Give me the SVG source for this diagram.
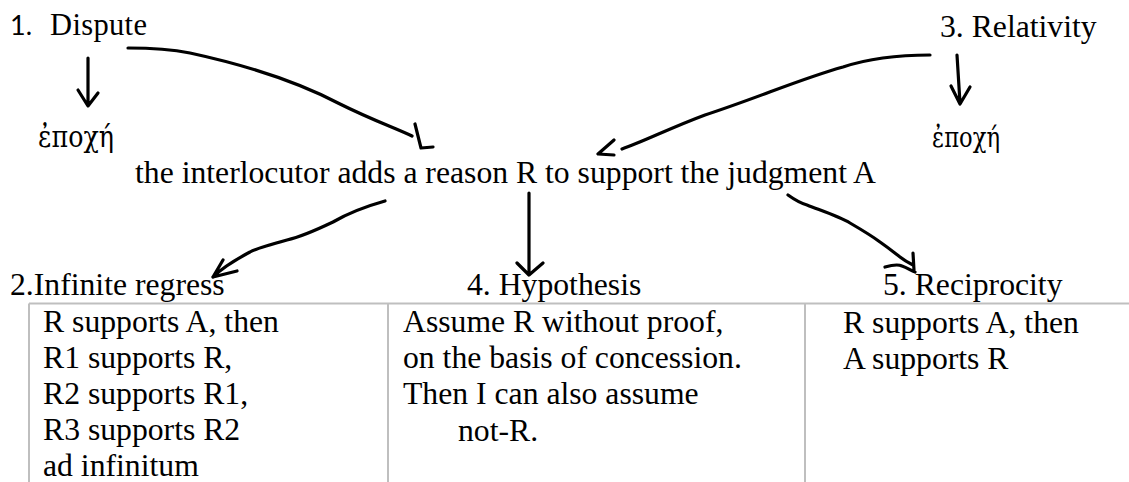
<svg xmlns="http://www.w3.org/2000/svg" width="1129" height="482" viewBox="0 0 1129 482">
<style>
.t{font-family:"Liberation Serif","Times New Roman",serif;font-size:31.7px;fill:#000}
.g{font-family:"DejaVu Serif","Liberation Serif",serif;fill:#000}
.d{font-family:"Liberation Serif","Times New Roman",serif;fill:#000}
.s{font-family:Lato,"Liberation Sans",sans-serif;font-size:27px;fill:#000}
.pen{fill:none;stroke:#000;stroke-width:3.2;stroke-linecap:round;stroke-linejoin:round}
.grid{fill:none;stroke:#bfbfbf;stroke-width:2}
</style>
<rect width="1129" height="482" fill="#fff"/>
<g id="dispute">
<text class="s" x="10" y="35">1.</text>
<text class="d" x="50" y="35" font-size="30.5" textLength="97" lengthAdjust="spacing">Dispute</text>
</g>
<g id="epoche-left">
<text class="g" x="38" y="147" font-size="29" textLength="76" lengthAdjust="spacingAndGlyphs">ἐποχή</text>
</g>
<g id="relativity">
<text class="t" x="940" y="37">3. Relativity</text>
</g>
<g id="epoche-right">
<text class="g" x="932" y="147" font-size="27" textLength="68" lengthAdjust="spacingAndGlyphs">ἐποχή</text>
</g>
<g id="interlocutor">
<text class="t" x="135" y="183">the interlocutor adds a reason R to support the judgment A</text>
</g>
<g id="regress">
<text class="t" x="10" y="295">2.Infinite regress</text>
<text class="t" x="43" y="332">R supports A, then</text>
<text class="t" x="43" y="368">R1 supports R,</text>
<text class="t" x="43" y="404">R2 supports R1,</text>
<text class="t" x="43" y="440">R3 supports R2</text>
<text class="t" x="43" y="476">ad infinitum</text>
</g>
<g id="hypothesis">
<text class="t" x="467" y="295">4. Hypothesis</text>
<text class="t" x="403" y="332">Assume R without proof,</text>
<text class="t" x="403" y="368">on the basis of concession.</text>
<text class="t" x="403" y="404">Then I can also assume</text>
<text class="t" x="458" y="441">not-R.</text>
</g>
<g id="reciprocity">
<text class="t" x="883" y="295">5. Reciprocity</text>
<text class="t" x="843" y="333">R supports A, then</text>
<text class="t" x="843" y="369">A supports R</text>
</g>
<g id="table">
<path class="grid" d="M29,303.5 H1129 M29,303.5 V482 M388,303.5 V482 M805,303.5 V482"/>
</g>
<g id="connectors">
<path class="pen" d="M88,58 L88,105 M78,90 L88,106 L98,93"/>
<path class="pen" d="M128,48 C150,48 170,49 190,53 C250,66 300,83 340,104 C370,119 395,128 412,136 M415,124 L421,148 L433,147"/>
<path class="pen" d="M930,55 C900,55 870,58 843,67 C800,79 760,97 705,115 C670,128 645,141 622,149 M614,140 L598,154 L614,155"/>
<path class="pen" d="M957,55 L960,103 M951,86 L960,104 L970,87"/>
<path class="pen" d="M385,201 C360,208 345,215 333,222 C310,233 300,237 287,240 C265,246 255,249 250,252 C235,260 222,268 213,277 M223,260 L213,277 L237,271"/>
<path class="pen" d="M529,193 L529,275 M517,263 L529,275 L543,263"/>
<path class="pen" d="M788,195 C795,200 800,203 807,205 C825,212 840,217 850,223 C862,230 872,236 880,242 C890,249 896,254 900,257 C905,261 909,263 913,265 M913,253 L914,270 M885,267 C892,265 898,264 902,266 C908,268 911,271 915,272"/>
</g>
</svg>
